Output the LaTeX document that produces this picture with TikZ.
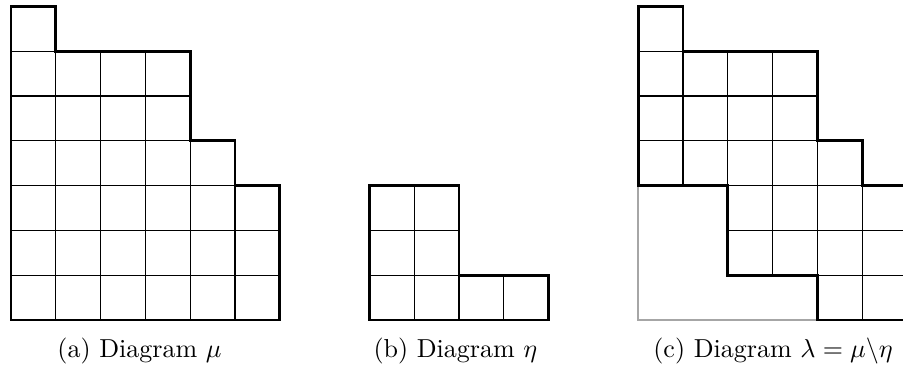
\documentclass[tikz,border=0pt]{standalone}
\begin{document}
\begin{tikzpicture}[x=0.6056cm,y=0.6056cm,
  cellline/.style={line width=0.45pt,black},
  outline/.style={line width=1.1pt,black,line join=miter},
  ghost/.style={line width=0.6pt,black!35},
  captext/.style={anchor=base,inner sep=0pt}]
\useasboundingbox (-0.2455,-1.1607) rectangle (19.911,7.1429);
% ---- Diagram mu
\begin{scope}
  \clip (0,0) -- (6,0) -- (6,3) -- (5,3) -- (5,4) -- (4,4) -- (4,6) -- (1,6) -- (1,7) -- (0,7) -- cycle;
  \foreach \i in {1,...,5} \draw[cellline] (\i,0) -- (\i,7);
  \foreach \j in {1,...,6} \draw[cellline] (0,\j) -- (6,\j);
\end{scope}
\draw[outline] (0,0) -- (6,0) -- (6,3) -- (5,3) -- (5,4) -- (4,4) -- (4,6) -- (1,6) -- (1,7) -- (0,7) -- cycle;
% ---- Diagram eta
\begin{scope}
  \clip (8,0) -- (12,0) -- (12,1) -- (10,1) -- (10,3) -- (8,3) -- cycle;
  \foreach \i in {9,10,11} \draw[cellline] (\i,0) -- (\i,3);
  \foreach \j in {1,2} \draw[cellline] (8,\j) -- (12,\j);
\end{scope}
\draw[outline] (8,0) -- (12,0) -- (12,1) -- (10,1) -- (10,3) -- (8,3) -- cycle;
% ---- Diagram lambda = mu \ eta
\begin{scope}
  \clip (14,3) -- (14,7) -- (15,7) -- (15,6) -- (18,6) -- (18,4) -- (19,4) -- (19,3) -- (20,3) -- (20,0) -- (18,0) -- (18,1) -- (16,1) -- (16,3) -- cycle;
  \foreach \i in {15,...,19} \draw[cellline] (\i,0) -- (\i,7);
  \foreach \j in {1,...,6} \draw[cellline] (14,\j) -- (20,\j);
\end{scope}
\draw[ghost] (14,3) -- (14,0) -- (18,0);
\draw[outline] (14,3) -- (14,7) -- (15,7) -- (15,6) -- (18,6) -- (18,4) -- (19,4) -- (19,3) -- (20,3) -- (20,0) -- (18,0) -- (18,1) -- (16,1) -- (16,3) -- cycle;
% ---- captions
\node[captext] (capa) at (2.87,-0.826) {(a) Diagram $\mu$};
\node[captext] (capb) at (9.92,-0.826) {(b) Diagram $\eta$};
\node[captext] (capc) at (17.01,-0.826) {(c) Diagram $\lambda=\mu\backslash\eta$};
\end{tikzpicture}
\end{document}
